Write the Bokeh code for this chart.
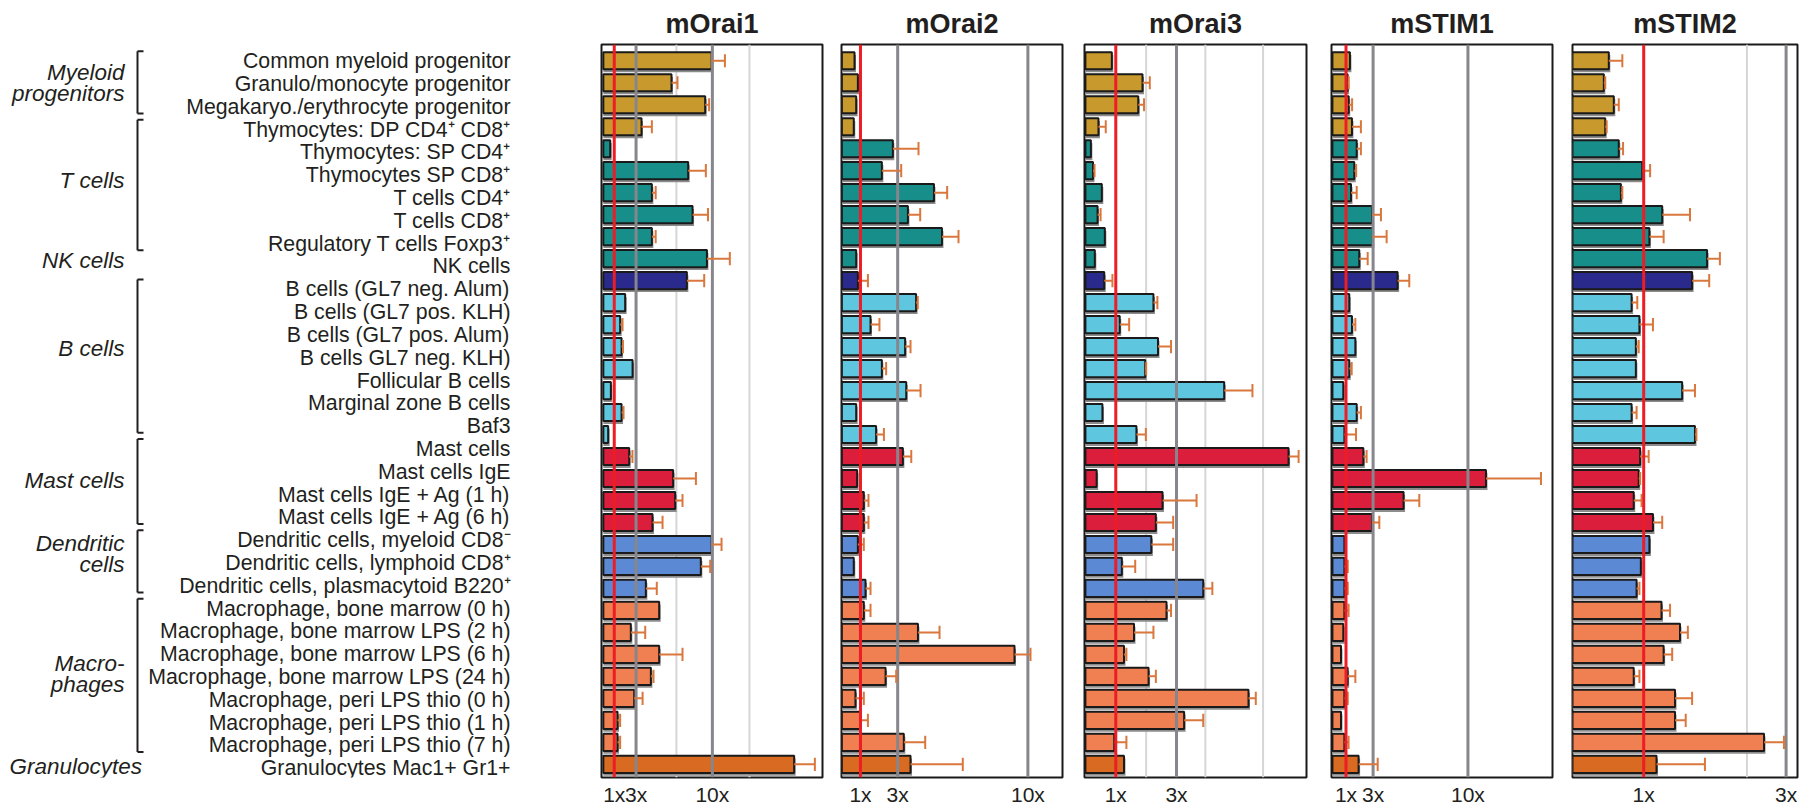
import numpy as np
from bokeh.plotting import figure
from bokeh.layouts import row
from bokeh.models import Range1d, FixedTicker, ColumnDataSource
from bokeh.core.properties import value
from bokeh.embed import file_html
from bokeh.resources import INLINE

# ---------------- data ----------------
cell_labels = [
    "Common myeloid progenitor", "Granulo/monocyte progenitor", "Megakaryo./erythrocyte progenitor",
    "Thymocytes: DP CD4\u207a CD8\u207a", "Thymocytes: SP CD4\u207a", "Thymocytes SP CD8\u207a",
    "T cells CD4\u207a", "T cells CD8\u207a", "Regulatory T cells Foxp3\u207a", "NK cells",
    "B cells (GL7 neg. Alum)", "B cells (GL7 pos. KLH)", "B cells (GL7 pos. Alum)", "B cells GL7 neg. KLH)",
    "Follicular B cells", "Marginal zone B cells", "Baf3",
    "Mast cells", "Mast cells IgE", "Mast cells IgE + Ag (1 h)", "Mast cells IgE + Ag (6 h)",
    "Dendritic cells, myeloid CD8\u207b", "Dendritic cells, lymphoid CD8\u207a",
    "Dendritic cells, plasmacytoid B220\u207a",
    "Macrophage, bone marrow (0 h)", "Macrophage, bone marrow LPS (2 h)", "Macrophage, bone marrow LPS (6 h)",
    "Macrophage, bone marrow LPS (24 h)", "Macrophage, peri LPS thio (0 h)", "Macrophage, peri LPS thio (1 h)",
    "Macrophage, peri LPS thio (7 h)", "Granulocytes Mac1+ Gr1+",
]

group_lines = [["Myeloid", "progenitors"], ["T cells"], ["NK cells"], ["B cells"], ["Mast cells"],
               ["Dendritic", "cells"], ["Macro-", "phages"], ["Granulocytes"]]
group_span = [(0, 2), (3, 8), None, (10, 16), (17, 20), (21, 23), (24, 30), None]
group_anchor = [0.95, 5.22, 8.73, 12.59, 18.37, 21.61, 26.87, 30.92]

bar_groups = (["myeloid"] * 4 + ["tcell"] * 6 + ["nk"] + ["bcell"] * 7 + ["mast"] * 4 +
              ["dc"] * 3 + ["mac"] * 7 + ["gran"])
group_colors = {"myeloid": "#C89A2E", "tcell": "#178E89", "nk": "#2A2A8C", "bcell": "#5EC6DF",
                "mast": "#DC1E3D", "dc": "#5B89D4", "mac": "#F07F51", "gran": "#D86A22"}

genes = ["mOrai1", "mOrai2", "mOrai3", "mSTIM1", "mSTIM2"]

morai1_val = [9.93, 6.25, 9.34, 3.5, 0.63, 7.78, 4.45, 8.18, 4.45, 9.5, 7.66, 2.0, 1.54, 1.67, 2.68, 0.69, 1.67,
              0.44, 2.37, 6.4, 6.59, 4.51, 9.93, 8.94, 3.9, 5.12, 2.52, 5.12, 4.36, 2.83, 1.3, 1.3, 17.5]
morai1_err = [11.15, 6.8, 9.7, 4.45, 0.63, 9.4, 4.8, 9.6, 4.8, 11.6, 9.25, 2.0, 1.76, 1.8, 2.68, 0.69, 1.85,
              0.44, 2.67, 8.49, 7.26, 5.43, 10.84, 9.8, 4.9, 5.12, 3.84, 7.26, 4.6, 3.6, 1.54, 1.54, 19.4]

morai2_val = [0.68, 0.86, 0.77, 0.64, 2.74, 2.15, 4.95, 3.55, 5.38, 0.77, 0.86, 3.99, 1.54, 3.4, 2.15, 3.46, 0.77,
              1.84, 3.28, 0.82, 1.18, 1.18, 0.86, 0.64, 1.27, 1.18, 4.09, 9.28, 2.35, 0.73, 1.0, 3.33, 3.69]
morai2_err = [0.68, 0.86, 0.77, 0.64, 4.12, 3.19, 5.66, 4.21, 6.27, 0.77, 1.4, 4.08, 2.02, 3.69, 2.38, 4.23, 0.77,
              2.26, 3.73, 0.82, 1.43, 1.43, 1.18, 0.64, 1.54, 1.54, 5.25, 10.14, 2.92, 1.18, 1.4, 4.48, 6.5]

morai3_val = [0.87, 1.88, 1.74, 0.43, 0.18, 0.25, 0.54, 0.4, 0.64, 0.31, 0.62, 2.24, 1.13, 2.39, 1.97, 4.57, 0.56,
              1.68, 6.69, 0.37, 2.54, 2.32, 2.17, 1.2, 3.88, 2.67, 1.6, 1.27, 2.08, 5.37, 3.25, 0.95, 1.27]
morai3_err = [0.87, 2.12, 1.93, 0.67, 0.18, 0.3, 0.54, 0.5, 0.64, 0.31, 0.89, 2.37, 1.44, 2.82, 2.0, 5.5, 0.56,
              1.99, 7.02, 0.37, 3.66, 2.89, 2.89, 1.64, 4.18, 2.82, 2.24, 1.35, 2.32, 5.61, 3.88, 1.35, 1.27]

mstim1_val = [1.29, 1.12, 1.2, 1.44, 1.79, 1.61, 1.37, 2.92, 2.97, 1.98, 4.81, 1.24, 1.44, 1.69, 1.24, 0.8, 1.79,
              0.88, 2.28, 11.33, 5.25, 2.92, 0.88, 0.88, 0.88, 0.88, 0.8, 0.63, 1.12, 0.88, 0.63, 0.88, 1.93]
mstim1_err = [1.29, 1.2, 1.45, 2.1, 2.1, 1.75, 1.79, 3.58, 4.0, 2.6, 5.67, 1.24, 1.69, 1.69, 1.42, 0.8, 2.1,
              1.74, 2.52, 15.39, 6.41, 3.46, 0.88, 1.13, 1.13, 1.19, 0.8, 0.63, 1.69, 1.13, 0.63, 1.19, 3.34]

mstim2_val = [0.51, 0.44, 0.58, 0.46, 0.65, 0.98, 0.68, 1.26, 1.08, 1.89, 1.68, 0.83, 0.94, 0.89, 0.89, 1.54, 0.83,
              1.72, 0.95, 0.93, 0.86, 1.13, 1.08, 0.96, 0.9, 1.25, 1.51, 1.28, 0.86, 1.44, 1.44, 2.69, 1.18]
mstim2_err = [0.7, 0.46, 0.65, 0.48, 0.71, 1.09, 0.7, 1.65, 1.28, 2.07, 1.92, 0.91, 1.13, 0.93, 0.89, 1.72, 0.9,
              1.74, 1.07, 0.95, 0.97, 1.26, 1.08, 0.96, 0.94, 1.37, 1.62, 1.4, 0.94, 1.68, 1.59, 2.97, 1.86]

values = [morai1_val, morai2_val, morai3_val, mstim1_val, mstim2_val]
errors = [morai1_err, morai2_err, morai3_err, mstim1_err, mstim2_err]

tick_values = [[1, 3, 10], [1, 3, 10], [1, 3], [1, 3, 10], [1, 3]]

# ---------------- style / layout ----------------
FONT = "Liberation Sans"
TXT = "#231f20"
H = 808
TOP, BOTTOM = 44, 30
Y0, Y1 = 32.6, -0.74          # flipped: first bar at top

# (border_left, frame_width, border_right), x range, faint grid
panel_geom = [(1, 221, 10), (9, 221, 11), (11, 222, 12), (13, 221, 10), (10, 225, 2)]
x_ranges = [(-0.17, 20.1), (-0.02, 11.86), (-0.03, 7.28), (-0.07, 16.24), (0.0, 3.16)]
faint_grid = [[6.7, 13.4], [], [2.0, 3.95, 5.85], [], [2.45]]

shared_y = Range1d(Y0, Y1)


def style_common(p, title_alpha=1.0, label_alpha=1.0):
    p.title.align = "center"
    p.title.text_font = FONT
    p.title.text_font_size = "27px"
    p.title.text_font_style = "bold"
    p.title.text_color = TXT
    p.title.text_alpha = title_alpha
    p.title.standoff = 11
    p.xgrid.visible = False
    p.ygrid.visible = False
    ax = p.xaxis[0]
    ax.axis_line_color = None
    ax.major_tick_line_color = None
    ax.minor_tick_line_color = None
    ax.major_tick_out = 0
    ax.major_tick_in = 0
    ax.minor_tick_out = 0
    ax.minor_tick_in = 0
    ax.major_label_standoff = 5
    ax.major_label_text_font = FONT
    ax.major_label_text_font_size = "21px"
    ax.major_label_text_color = TXT
    ax.major_label_text_alpha = label_alpha


# ---------- label figure (same frame structure as the panels) ----------
LW = 600
p0 = figure(width=LW, height=H, x_range=Range1d(0, LW), y_range=shared_y,
            y_axis_location=None, toolbar_location=None, output_backend="svg",
            min_border_left=0, min_border_right=0, min_border_top=TOP, min_border_bottom=BOTTOM,
            title="mOrai1")
style_common(p0, title_alpha=0.0, label_alpha=0.0)
p0.xaxis[0].ticker = FixedTicker(ticks=[300])
p0.xaxis[0].major_label_overrides = {300: "10x"}
p0.outline_line_color = None

n_lab = len(cell_labels)
lab_step = (32.18 - 0.02) / (n_lab - 1)


def L(j):
    return 0.02 + j * lab_step


p0.text(x=[510] * n_lab, y=[L(j) for j in range(n_lab)], text=cell_labels,
        text_align="right", text_baseline="middle", text_font=value(FONT),
        text_font_size="21.3px", text_color=TXT)

gx, gy, gt, ga = [], [], [], []
for lines, anc in zip(group_lines, group_anchor):
    yc = L(anc)
    n = len(lines)
    for k, t in enumerate(lines):
        gy.append(yc + (k - (n - 1) / 2) * 0.98)
        gt.append(t)
        if t == "Granulocytes":
            gx.append(9); ga.append("left")
        else:
            gx.append(124); ga.append("right")
gsrc = ColumnDataSource(dict(x=gx, y=gy, t=gt, a=ga))
p0.text(x="x", y="y", text="t", text_align="a", source=gsrc, text_baseline="middle",
        text_font=value(FONT), text_font_size="22.5px", text_font_style="italic", text_color=TXT)

bx0, by0, bx1, by1 = [], [], [], []
for sp in group_span:
    if sp is None:
        continue
    ya, yb = L(sp[0]) - 0.45, L(sp[1]) + 0.3
    bx0 += [137, 137, 137]; bx1 += [137, 143, 143]
    by0 += [ya, ya, yb]; by1 += [yb, ya, yb]
p0.segment(x0=bx0, y0=by0, x1=bx1, y1=by1, line_color=TXT, line_width=2)

# ---------- panels ----------
ys = np.arange(len(morai1_val), dtype=float)
colors = [group_colors[g] for g in bar_groups]
panels = [p0]
for gi, gene in enumerate(genes):
    bl, fw, br = panel_geom[gi]
    xs, xe = x_ranges[gi]
    p = figure(width=bl + fw + br, height=H, x_range=Range1d(xs, xe), y_range=shared_y,
               y_axis_location=None, toolbar_location=None, output_backend="svg",
               min_border_left=bl, min_border_right=br, min_border_top=TOP, min_border_bottom=BOTTOM,
               title=gene)
    style_common(p)
    p.outline_line_color = "#1a1a1a"
    p.outline_line_width = 2

    ax = p.xaxis[0]
    ax.ticker = FixedTicker(ticks=tick_values[gi])
    ax.major_label_overrides = {t: f"{t}x" for t in tick_values[gi]}

    px_unit = fw / (xe - xs)
    v = np.array(values[gi])
    e = np.array(errors[gi])

    fg = faint_grid[gi]
    if fg:
        p.segment(x0=fg, y0=[Y0] * len(fg), x1=fg, y1=[Y1] * len(fg), line_color="#d6d6d6", line_width=2)

    src = ColumnDataSource(dict(y=ys, v=v, c=colors, ysh=ys + 0.13, vsh=v + 1.5 / px_unit))
    p.hbar(y="ysh", left=0, right="vsh", height=0.78, fill_color="#8c8c8c", line_color=None, source=src)
    p.hbar(y="y", left=0, right="v", height=0.78, fill_color="c", line_color="#1a1a1a",
           line_width=2, source=src)

    gray = [t for t in tick_values[gi] if t != 1]
    p.segment(x0=gray, y0=[Y0] * len(gray), x1=gray, y1=[Y1] * len(gray), line_color="#86868c", line_width=3)

    m = e > v + 1e-9
    ecol = "#D9773C"
    p.segment(x0=v[m], y0=ys[m], x1=e[m], y1=ys[m], line_color=ecol, line_width=2)
    p.segment(x0=e[m], y0=ys[m] - 0.3, x1=e[m], y1=ys[m] + 0.3, line_color=ecol, line_width=2)

    p.segment(x0=[1], y0=[Y0], x1=[1], y1=[Y1], line_color="#EE1C25", line_width=3)
    panels.append(p)

layout = row(*panels, spacing=0)
open("out.html", "w").write(file_html(layout, INLINE))
